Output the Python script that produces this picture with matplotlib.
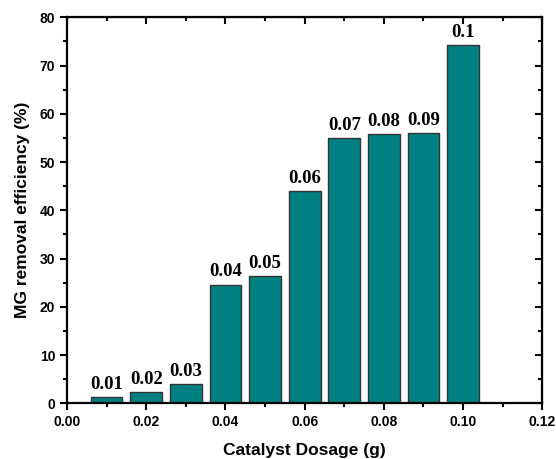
import numpy as np
import matplotlib
matplotlib.use("Agg")
from matplotlib import pyplot as plt
from matplotlib.ticker import MultipleLocator

dosage = [0.01, 0.02, 0.03, 0.04, 0.05, 0.06, 0.07, 0.08, 0.09, 0.10]
efficiency = [1.3, 2.3, 3.9, 24.6, 26.3, 43.9, 55.0, 55.8, 56.0, 74.3]
bar_labels = ["0.01", "0.02", "0.03", "0.04", "0.05", "0.06", "0.07", "0.08", "0.09", "0.1"]

plt.rcParams['font.family'] = ['Liberation Sans', 'DejaVu Sans']

fig = plt.figure(figsize=(5.56, 4.59), dpi=100)
ax = fig.add_axes([0.1205, 0.1214, 0.8549, 0.8409])

bars = ax.bar(dosage, efficiency, width=0.008, color="#008080",
              edgecolor="#333333", linewidth=1.0)
for b, lab in zip(bars, bar_labels):
    ax.annotate(lab, (b.get_x() + b.get_width() / 2, b.get_height()),
                xytext=(0, 3), textcoords="offset points",
                ha="center", va="bottom", fontsize=13.5, fontweight="bold",
                family="Liberation Serif")

ax.set_xlim(0, 0.12)
ax.set_ylim(0, 80)
ax.xaxis.set_major_locator(MultipleLocator(0.02))
ax.xaxis.set_minor_locator(MultipleLocator(0.01))
ax.yaxis.set_major_locator(MultipleLocator(10))
ax.yaxis.set_minor_locator(MultipleLocator(5))
ax.xaxis.set_major_formatter(plt.FormatStrFormatter("%.2f"))

for s in ax.spines.values():
    s.set_linewidth(1.6)

ax.tick_params(which="both", direction="out", width=1.5, labelsize=10)
ax.tick_params(which="major", length=5)
ax.tick_params(which="minor", length=3)
for lab in ax.get_xticklabels() + ax.get_yticklabels():
    lab.set_fontweight("bold")

# mirrored ticks on top and right, pointing inward
axt = ax.secondary_xaxis("top")
axt.xaxis.set_major_locator(MultipleLocator(0.02))
axt.xaxis.set_minor_locator(MultipleLocator(0.01))
axt.tick_params(which="both", direction="in", width=1.5, labeltop=False)
axt.tick_params(which="major", length=5)
axt.tick_params(which="minor", length=3)
axr = ax.secondary_yaxis("right")
axr.yaxis.set_major_locator(MultipleLocator(10))
axr.yaxis.set_minor_locator(MultipleLocator(5))
axr.tick_params(which="both", direction="in", width=1.5, labelright=False)
axr.tick_params(which="major", length=5)
axr.tick_params(which="minor", length=3)

ax.set_xlabel("Catalyst Dosage (g)", fontsize=12.5, fontweight="bold", labelpad=10)
ax.set_ylabel("MG removal efficiency (%)", fontsize=12.5, fontweight="bold", labelpad=7)

fig.savefig("out.png", dpi=100)
